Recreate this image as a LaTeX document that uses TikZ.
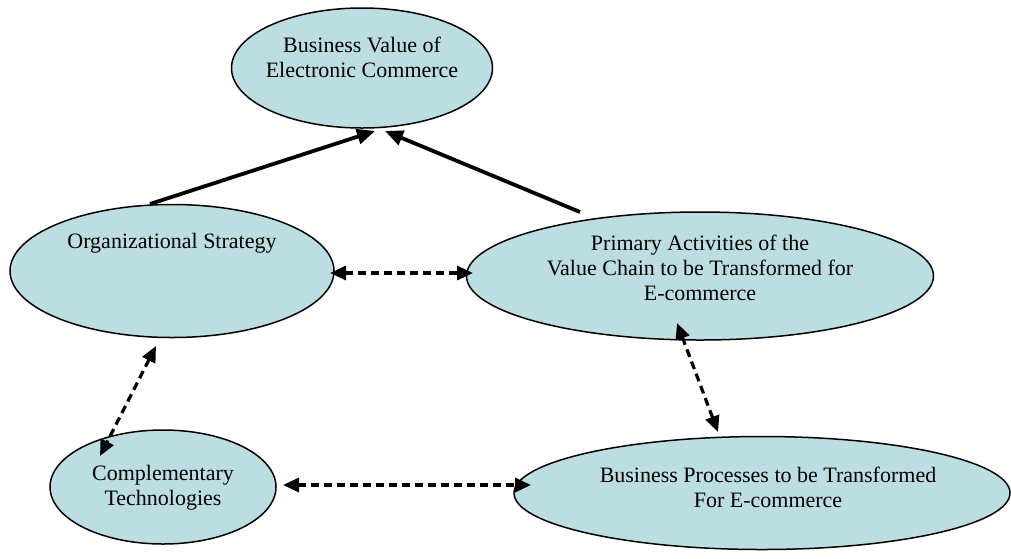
\documentclass[tikz,border=0pt]{standalone}
\usepackage{fontspec}
\setmainfont{Liberation Serif}
\usetikzlibrary{shapes.geometric,arrows.meta}
\definecolor{ellfill}{RGB}{188,222,226}
\begin{document}
\begin{tikzpicture}[x=1pt,y=-1pt,
  ell/.style={ellipse,draw=black,line width=1.5pt,fill=ellfill,inner sep=0pt},
  lbl/.style={align=center,font=\fontsize{22}{25}\selectfont,inner sep=0pt},
  solidarrow/.style={line width=3.8pt,-{Triangle[length=18pt,width=15pt]}},
  dasharrow/.style={line width=3.2pt,dash pattern=on 8pt off 5pt,{Triangle[length=16pt,width=14pt]}-{Triangle[length=16pt,width=14pt]}}]
\useasboundingbox (0,0) rectangle (1011,558);
\node[ell,minimum width=261pt,minimum height=120pt] (bv) at (362,68) {};
\node[ell,minimum width=324pt,minimum height=133pt] (org) at (172,271) {};
\node[ell,minimum width=467pt,minimum height=128pt] (prim) at (700,276) {};
\node[ell,minimum width=226pt,minimum height=114pt] (comp) at (163,487) {};
\node[ell,minimum width=496pt,minimum height=113pt] (bp) at (762,493) {};
\node[lbl] (tbv) at (362,57) {Business Value of\\Electronic Commerce};
\node[lbl] (torg) at (172,243) {Organizational Strategy};
\node[lbl] (tprim) at (700,268) {Primary Activities of the\\Value Chain to be Transformed for\\E-commerce};
\node[lbl] (tcomp) at (163,488) {Complementary\\Technologies};
\node[lbl] (tbp) at (768,487) {Business Processes to be Transformed\\For E-commerce};
\coordinate (a1s) at (150,204);
\coordinate (a1e) at (375,131);
\coordinate (a2s) at (580,212);
\coordinate (a2e) at (385,131);
\coordinate (h1s) at (330,273);
\coordinate (h1e) at (473,273);
\coordinate (d1s) at (156,346);
\coordinate (d1e) at (100,456);
\coordinate (d2s) at (677,323);
\coordinate (d2e) at (718,432);
\coordinate (h2s) at (283,485);
\coordinate (h2e) at (531,485);
\draw[solidarrow] (a1s) -- (a1e);
\draw[solidarrow] (a2s) -- (a2e);
\draw[dasharrow] (h1s) -- (h1e);
\draw[dasharrow] (d1s) -- (d1e);
\draw[dasharrow] (d2s) -- (d2e);
\draw[dasharrow] (h2s) -- (h2e);
\end{tikzpicture}
\end{document}
